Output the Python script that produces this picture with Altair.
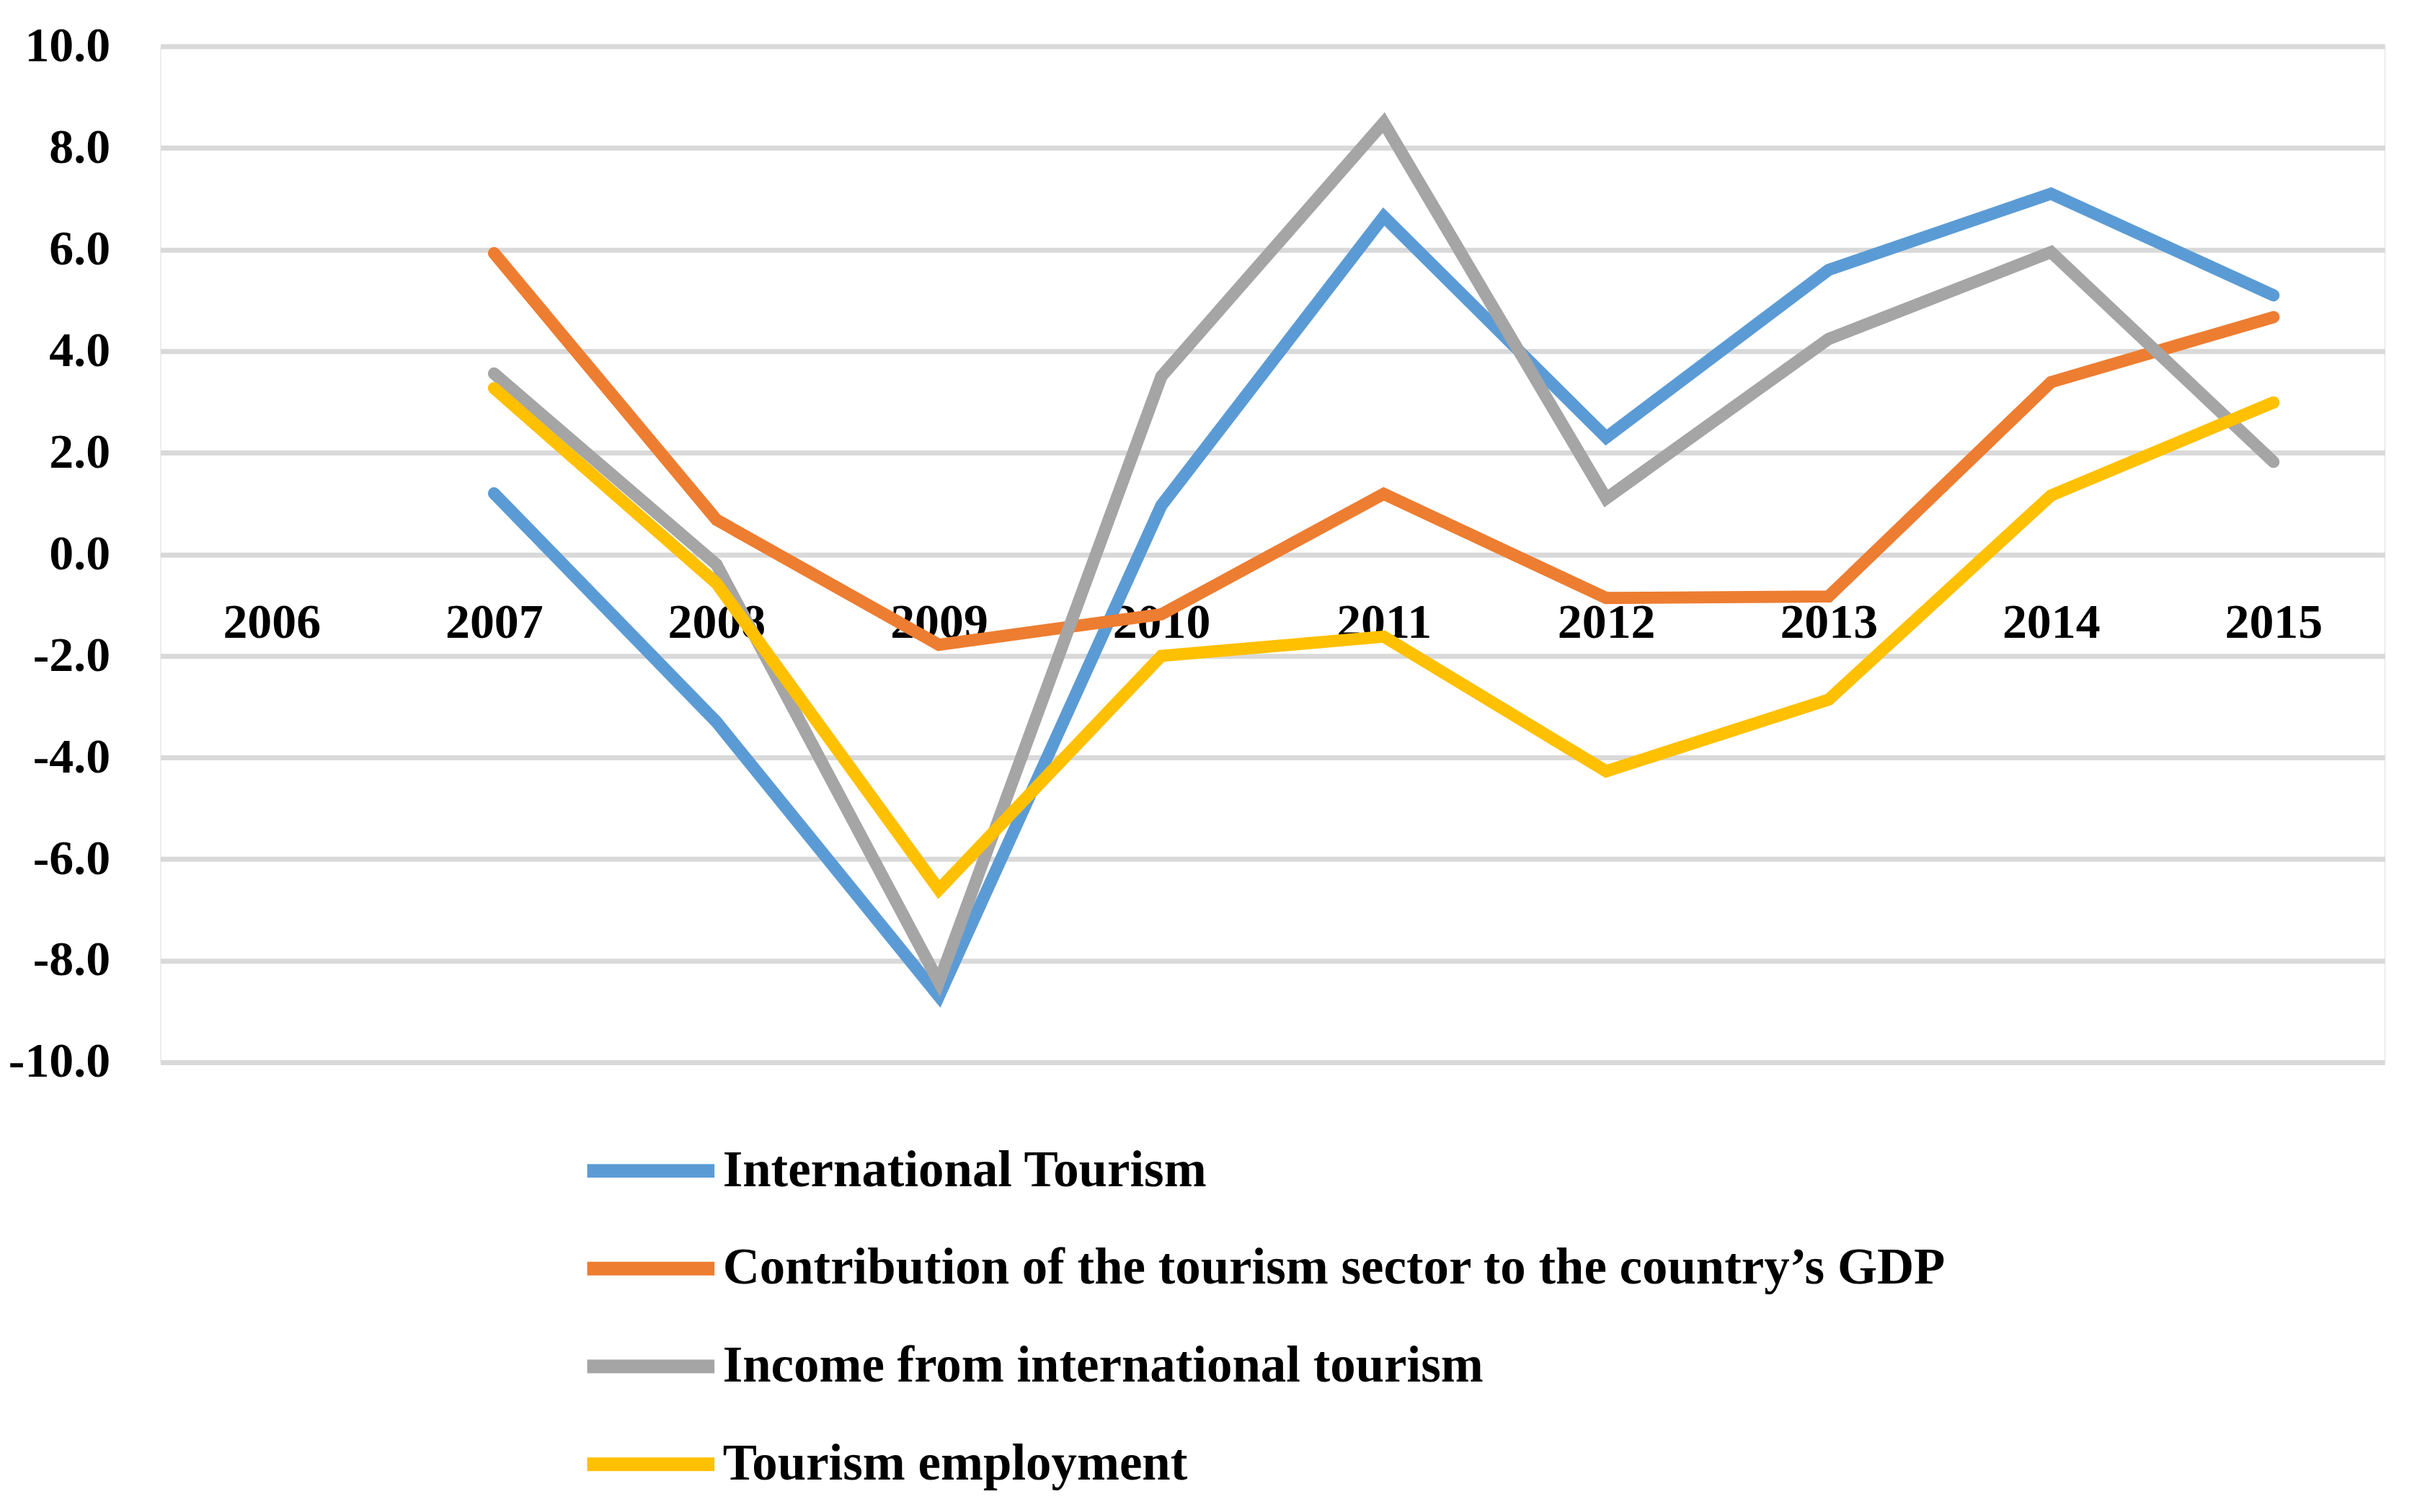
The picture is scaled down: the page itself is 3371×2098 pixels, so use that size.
import altair as alt
import pandas as pd

years = ["2006", "2007", "2008", "2009", "2010", "2011", "2012", "2013", "2014", "2015"]
data_years = ["2007", "2008", "2009", "2010", "2011", "2012", "2013", "2014", "2015"]

series_names = [
    "International Tourism",
    "Contribution of the tourism sector to the country\u2019s GDP",
    "Income from international tourism",
    "Tourism employment",
]
colors = ["#5B9BD5", "#ED7D31", "#A5A5A5", "#FFC000"]

international_tourism = [1.2, -3.3, -8.7, 0.96, 6.65, 2.3, 5.6, 7.1, 5.1]
gdp_contribution = [5.93, 0.68, -1.78, -1.18, 1.19, -0.86, -0.83, 3.39, 4.67]
income_intl_tourism = [3.56, -0.2, -8.42, 3.5, 8.5, 1.1, 4.24, 5.95, 1.82]
tourism_employment = [3.27, -0.57, -6.6, -2.0, -1.62, -4.27, -2.86, 1.16, 2.99]

y_ticks = [-10, -8, -6, -4, -2, 0, 2, 4, 6, 8, 10]

rows = []
for name, vals in zip(series_names, [international_tourism, gdp_contribution,
                                     income_intl_tourism, tourism_employment]):
    for yr, v in zip(data_years, vals):
        rows.append({"year": yr, "value": v, "series": name, "order": series_names.index(name)})
df = pd.DataFrame(rows)

FONT = "Liberation Serif"

chart = alt.Chart(df).mark_line(strokeWidth=17, strokeCap="round", strokeJoin="miter").encode(
    x=alt.X("year:O",
            scale=alt.Scale(type="point", domain=years, padding=0.5),
            axis=alt.Axis(title=None, domain=False, ticks=False, grid=False, labelAngle=0,
                          offset=-707, labelPadding=96, labelBaseline="middle",
                          labelFont=FONT, labelFontSize=68, labelFontWeight="bold",
                          labelColor="#000000")),
    y=alt.Y("value:Q",
            scale=alt.Scale(domain=[-10, 10], nice=False, zero=False),
            axis=alt.Axis(title=None, domain=False, ticks=False, values=y_ticks,
                          labelExpr="(datum.value < 0 ? '-' : '') + format(abs(datum.value), '.1f')",
                          grid=True, gridColor="#D9D9D9", gridWidth=7,
                          labelPadding=70, labelFont=FONT, labelFontSize=68,
                          labelFontWeight="bold", labelColor="#000000")),
    color=alt.Color("series:N",
                    scale=alt.Scale(domain=series_names, range=colors),
                    sort=series_names,
                    legend=alt.Legend(title=None, orient="none", legendX=584, legendY=1466,
                                      direction="vertical", symbolType="stroke",
                                      symbolSize=31329, symbolStrokeWidth=19,
                                      labelFont=FONT, labelFontSize=71, labelFontWeight="bold",
                                      labelColor="#000000", labelOffset=2, rowPadding=-6,
                                      labelLimit=3000)),
    order=alt.Order("order:Q"),
).properties(
    width=3093,
    height=1413,
    padding={"left": 215, "top": 54, "right": 55, "bottom": 615},
    autosize=alt.AutoSizeParams(type="none"),
).configure_view(stroke=None).configure(background="#FFFFFF")

chart.save("out.html", embed_options={"renderer": "svg", "actions": False})
